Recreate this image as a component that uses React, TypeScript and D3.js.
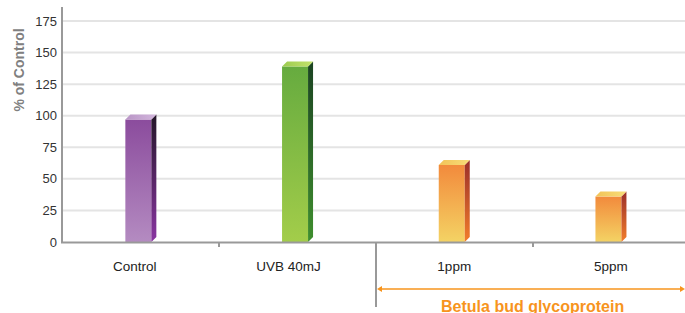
import React from "react";
import * as d3 from "d3";

const categories = ["Control", "UVB 40mJ", "1ppm", "5ppm"];
const values = [97, 139, 61, 36];
const yTicks = [0, 25, 50, 75, 100, 125, 150, 175];
const groupLabel = "Betula bud glycoprotein";
const yTitle = "% of Control";

const W = 685;
const H = 313;

const palettes = [
  { front: ["#8b4c9d", "#b48bc1"], side: ["#231628", "#8a35a2"], top: ["#b995c6", "#d2b6dc"] },
  { front: ["#66ab3f", "#a3cd4a"], side: ["#1b4322", "#3f8f2e"], top: ["#9ccb50", "#c4e26c"] },
  { front: ["#f28a3c", "#f4d364"], side: ["#9a2e29", "#f27d2b"], top: ["#f2c358", "#f7dd78"] },
  { front: ["#f28a3c", "#f4d364"], side: ["#9a2e29", "#f27d2b"], top: ["#f2c358", "#f7dd78"] },
];
const labelNudge = [-6, -9, 0, 0];

export default function App() {
  const x = d3.scaleBand<string>().domain(categories).range([62.5, 689.3]).padding(0);
  const y = d3.scaleLinear().domain([0, 175]).range([242, 21]);
  const frontW = 26;
  const depth = 5;
  const bw = x.bandwidth();
  const sepX = x("1ppm")!;

  return (
    <svg width={W} height={H} style={{ position: "absolute", left: 0, top: 0, fontFamily: "'Liberation Sans', Arial, sans-serif" }}>
      <defs>
        {palettes.map((p, i) => (
          <React.Fragment key={i}>
            <linearGradient id={`front${i}`} x1="0" y1="0" x2="0" y2="1">
              <stop offset="0" stopColor={p.front[0]} />
              <stop offset="1" stopColor={p.front[1]} />
            </linearGradient>
            <linearGradient id={`side${i}`} x1="0" y1="0" x2="0" y2="1">
              <stop offset="0" stopColor={p.side[0]} />
              <stop offset="1" stopColor={p.side[1]} />
            </linearGradient>
            <linearGradient id={`top${i}`} x1="0" y1="0" x2="1" y2="0">
              <stop offset="0" stopColor={p.top[0]} />
              <stop offset="1" stopColor={p.top[1]} />
            </linearGradient>
          </React.Fragment>
        ))}
      </defs>
      <rect width={W} height={H} fill="#fff" />
      {yTicks.filter((t) => t > 0).map((t) => (
        <line key={t} x1={63} x2={W} y1={y(t)} y2={y(t)} stroke="#e4e4e4" strokeWidth={2} />
      ))}
      {categories.map((c, i) => {
        const cx = x(c)! + bw / 2;
        const x0 = cx - (frontW + depth) / 2;
        const x1 = x0 + frontW;
        const yt = y(values[i]);
        const yb = y(0);
        return (
          <g key={c}>
            <rect x={x0} y={yt} width={frontW} height={yb - yt} fill={`url(#front${i})`} />
            <polygon
              points={`${x1},${yt} ${x1 + depth},${yt - depth} ${x1 + depth},${yb - depth} ${x1},${yb}`}
              fill={`url(#side${i})`}
            />
            <polygon
              points={`${x0},${yt} ${x0 + depth},${yt - depth} ${x1 + depth},${yt - depth} ${x1},${yt}`}
              fill={`url(#top${i})`}
            />
          </g>
        );
      })}
      <line x1={62} x2={62} y1={7} y2={243} stroke="#999" strokeWidth={2} />
      <line x1={61} x2={W} y1={242.5} y2={242.5} stroke="#999" strokeWidth={2} />
      {categories.slice(1).map((c) => {
        const xx = Math.round(x(c)!);
        return c === "1ppm" ? null : (
          <line key={c} x1={xx} x2={xx} y1={242} y2={247} stroke="#999" strokeWidth={2} />
        );
      })}
      <line x1={Math.round(sepX)} x2={Math.round(sepX)} y1={242} y2={307} stroke="#999" strokeWidth={2} />
      {yTicks.map((t) => (
        <text key={t} x={57} y={y(t)} dy="0.35em" textAnchor="end" fontSize={13} fill="#333">
          {t}
        </text>
      ))}
      <text
        transform={`translate(24,${70}) rotate(-90)`}
        textAnchor="middle"
        fontSize={14}
        fontWeight="bold"
        fill="#808080"
      >
        {yTitle}
      </text>
      {categories.map((c, i) => (
        <text key={c} x={x(c)! + bw / 2 + labelNudge[i]} y={270.5} textAnchor="middle" fontSize={13.5} fill="#222">
          {c}
        </text>
      ))}
      <line x1={379} x2={682} y1={289} y2={289} stroke="#f7941d" strokeWidth={1.5} />
      <polygon points={`${Math.round(sepX) + 1},289 ${Math.round(sepX) + 6},286 ${Math.round(sepX) + 6},292`} fill="#f7941d" />
      <polygon points={`685,289 680,286 680,292`} fill="#f7941d" />
      <text x={(sepX + 689.3) / 2} y={311.5} textAnchor="middle" fontSize={16} fontWeight="bold" fill="#f7941d">
        {groupLabel}
      </text>
    </svg>
  );
}
